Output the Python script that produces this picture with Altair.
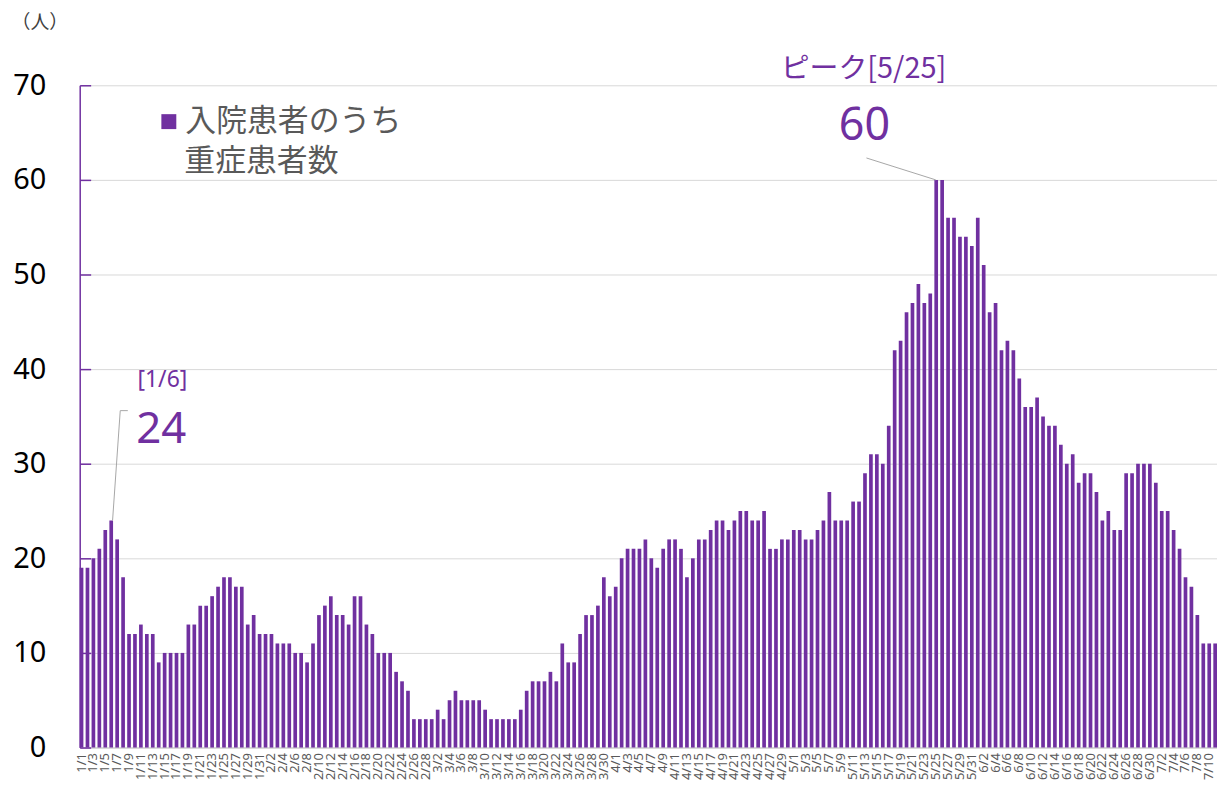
import altair as alt
import pandas as pd

# ---- data ----
month_lengths = [31, 28, 31, 30, 31, 30, 11]
jan = [19, 19, 20, 21, 23, 24, 22, 18, 12, 12, 13, 12, 12, 9, 10, 10, 10, 10, 13, 13,
       15, 15, 16, 17, 18, 18, 17, 17, 13, 14, 12]
feb = [12, 12, 11, 11, 11, 10, 10, 9, 11, 14, 15, 16, 14, 14, 13, 16, 16, 13, 12, 10,
       10, 10, 8, 7, 6, 3, 3, 3]
mar = [3, 4, 3, 5, 6, 5, 5, 5, 5, 4, 3, 3, 3, 3, 3, 4, 6, 7, 7, 7,
       8, 7, 11, 9, 9, 12, 14, 14, 15, 18, 16]
apr = [17, 20, 21, 21, 21, 22, 20, 19, 21, 22, 22, 21, 18, 20, 22, 22, 23, 24, 24, 23,
       24, 25, 25, 24, 24, 25, 21, 21, 22, 22]
may = [23, 23, 22, 22, 23, 24, 27, 24, 24, 24, 26, 26, 29, 31, 31, 30, 34, 42, 43, 46,
       47, 49, 47, 48, 60, 60, 56, 56, 54, 54, 53]
jun = [56, 51, 46, 47, 42, 43, 42, 39, 36, 36, 37, 35, 34, 34, 32, 30, 31, 28, 29, 29,
       27, 24, 25, 23, 23, 29, 29, 30, 30, 30]
jul = [28, 25, 25, 23, 21, 18, 17, 14, 11, 11, 11]

values = jan + feb + mar + apr + may + jun + jul
dates = [f"{m}/{d}" for m, n in enumerate(month_lengths, start=1) for d in range(1, n + 1)]
tick_labels = dates[::2]
y_ticks = [0, 10, 20, 30, 40, 50, 60, 70]
series_name = "入院患者のうち"
series_line2 = "重症患者数"

df = pd.DataFrame({"date": dates, "value": values, "series": series_name})

# ---- style ----
W, H = 1142, 665
PURPLE = "#7030A0"
GRAY_TXT = "#595959"
GRID = "#D9D9D9"
FONT = "Noto Sans"
CJK = "Noto Sans CJK JP"

x_enc = alt.X(
    "date:N", sort=None,
    scale=alt.Scale(paddingInner=0.38, paddingOuter=0),
    axis=alt.Axis(values=tick_labels, labelAngle=270, labelFontSize=13, labelFont=FONT,
                  labelColor=GRAY_TXT, ticks=False, domainColor=GRID, domainWidth=2,
                  labelPadding=5, grid=False, title=None, labelOverlap=False),
)
y_scale = alt.Scale(domain=[0, 70], nice=False)

bars = alt.Chart(df).mark_bar(color=PURPLE).encode(
    x=x_enc,
    y=alt.Y("value:Q", scale=y_scale,
            axis=alt.Axis(values=y_ticks, labelFontSize=29, labelFont=FONT, labelColor="#000000",
                          labelPadding=34, ticks=False, domainColor=PURPLE, domainWidth=1.5,
                          gridColor=GRID, gridWidth=1,
                          title="（人）", titleAngle=0, titleX=-69, titleY=-63,
                          titleAlign="left", titleBaseline="middle", titleFontSize=19,
                          titleFont=CJK, titleFontWeight="normal", titleColor="#404040")),
    color=alt.Color("series:N", scale=alt.Scale(range=[PURPLE]),
                    legend=alt.Legend(orient="none", legendX=74, legendY=21, title=None,
                                      symbolType="square", symbolSize=225, symbolStrokeWidth=0,
                                      symbolOpacity=1, labelFontSize=31, labelFont=CJK,
                                      labelColor=GRAY_TXT, labelOffset=1, labelLimit=0,
                                      padding=0)),
)

# inward-pointing purple ticks on the left edge (axis drawn on the right, shifted left)
tick_axis = alt.Chart(df).mark_bar(opacity=0).encode(
    x=x_enc,
    y=alt.Y("value:Q", scale=y_scale,
            axis=alt.Axis(orient="right", offset=-W, values=y_ticks, labels=False, domain=False,
                          grid=False, ticks=True, tickSize=11, tickColor=PURPLE, tickWidth=1.5,
                          title=None)),
)

def label(text, x, y, size, color, font, align="center"):
    return alt.Chart(pd.DataFrame({"t": [text]})).mark_text(
        fontSize=size, font=font, color=color, align=align, baseline="middle"
    ).encode(text="t:N", x=alt.value(x), y=alt.value(y))

def leader(x1, y1, x2, y2):
    return alt.Chart(pd.DataFrame({"a": [0]})).mark_rule(color="#A6A6A6", strokeWidth=1).encode(
        x=alt.value(x1), y=alt.value(y1), x2=alt.value(x2), y2=alt.value(y2))

annotations = [
    label(series_line2, 105, 77, 31, GRAY_TXT, CJK, align="left"),
    label("[1/6]", 83, 296, 23, PURPLE, FONT),
    label("24", 82, 346, 44, PURPLE, FONT),
    label("ピーク[5/25]", 787, -16, 29, PURPLE, CJK),
    label("60", 788, 41, 45, PURPLE, FONT),
    leader(33, 437, 40.7, 326.7),
    leader(40.7, 326.7, 48.3, 326.7),
    leader(790, 73, 859.6, 95),
]

chart = alt.layer(bars, tick_axis, *annotations).resolve_axis(y="independent").properties(
    width=W, height=H,
    autosize=alt.AutoSizeParams(type="none"),
    padding={"left": 72, "top": 76, "right": 0, "bottom": 32},
).configure_view(stroke=None)

chart.save("out.html", embed_options={"renderer": "svg", "actions": False})
